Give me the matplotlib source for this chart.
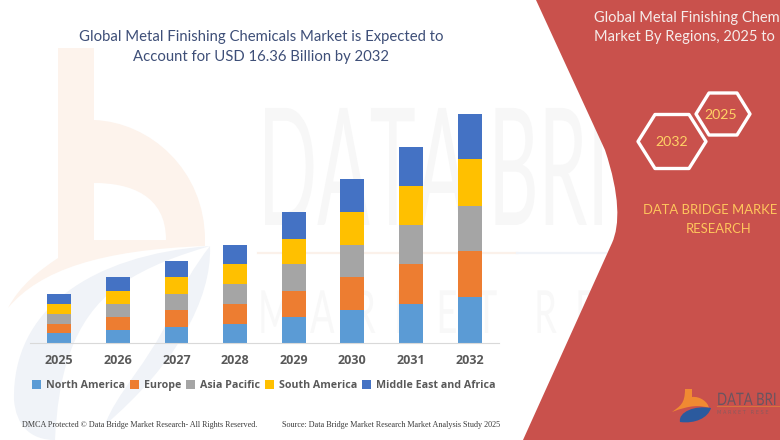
import matplotlib
matplotlib.use("Agg")
import matplotlib.pyplot as plt
import numpy as np
from matplotlib.patches import Polygon, PathPatch
from matplotlib.path import Path
from matplotlib.patheffects import AbstractPathEffect
from matplotlib.transforms import Affine2D

years = ["2025", "2026", "2027", "2028", "2029", "2030", "2031", "2032"]
north_america = [0.66, 0.90, 1.11, 1.35, 1.83, 2.31, 2.78, 3.24]
europe = [0.69, 0.93, 1.20, 1.43, 1.88, 2.36, 2.82, 3.31]
asia_pacific = [0.72, 0.93, 1.17, 1.41, 1.89, 2.29, 2.79, 3.24]
south_america = [0.69, 0.95, 1.20, 1.41, 1.83, 2.38, 2.84, 3.34]
middle_east = [0.72, 0.96, 1.17, 1.38, 1.91, 2.36, 2.77, 3.23]
series_names = ["North America", "Europe", "Asia Pacific", "South America", "Middle East and Africa"]
series_colors = ["#5B9BD5", "#ED7D31", "#A5A5A5", "#FFC000", "#4472C4"]


class Stretch(AbstractPathEffect):
    """Draw a text taller than its font, about its baseline."""
    def __init__(self, k):
        super().__init__()
        self.k = k

    def draw_path(self, renderer, gc, tpath, affine, rgbFace=None):
        renderer.draw_path(gc, tpath, Affine2D().scale(1, self.k) + affine, rgbFace)


W, H = 780, 440
fig = plt.figure(figsize=(W / 100, H / 100), dpi=100, facecolor="white")

# decorative background, in pixel coordinates
bg = fig.add_axes([0, 0, 1, 1], zorder=0)
bg.set_xlim(0, W)
bg.set_ylim(H, 0)
bg.axis("off")

M, L, C3, C4, Z = 1, 2, 3, 4, 79

# pale orange "b" watermark
bg.add_patch(PathPatch(Path(
    [(58, 48), (94, 48), (94, 120), (150, 122), (205, 170), (205, 240), (166, 240),
     (166, 195), (130, 183), (94, 183), (94, 240), (150, 240), (205, 240), (205, 246),
     (100, 250), (40, 270), (8, 308), (20, 285), (40, 270), (58, 258), (58, 48)],
    [M, L, L, C4, C4, C4, L, C4, C4, C4, L, L, L, L, C4, C4, C4, C4, C4, C4, L]),
    fc="#FDF3EC", ec="none", zorder=1))
# pale blue swirl watermark
bg.add_patch(PathPatch(Path(
    [(210, 246), (90, 255), (12, 310), (14, 400), (16, 425), (30, 440), (55, 440),
     (58, 380), (70, 320), (120, 285), (150, 265), (180, 255), (210, 246)],
    [M, C4, C4, C4, C4, C4, C4, C4, C4, C4, C4, C4, C4]), fc="#F0F3F8", ec="none", zorder=2))
bg.add_patch(PathPatch(Path(
    [(210, 246), (212, 300), (175, 365), (105, 425), (115, 395), (150, 360), (168, 320), (180, 290), (195, 265), (210, 246)],
    [M, C4, C4, C4, C4, C4, C4, C4, C4, C4]), fc="#F0F3F8", ec="none", zorder=2))

# grey word watermark
wm = bg.text(258, 225, "DATA BRI", family="Lato", fontsize=56, color="#F7F7F7",
             ha="left", va="baseline", zorder=1)
wm.set_path_effects([Stretch(2.1)])
wm2 = bg.text(258, 333, "M  A  R  K  E  T    R  E  S", family="Lato", fontsize=26, color="#F8F8F8",
              ha="left", va="baseline", zorder=1)
wm2.set_path_effects([Stretch(1.65)])
bg.plot([258, 517], [253, 253], color="#FBF1EA", lw=1.6, zorder=1)
bg.plot([517, 606], [253, 253], color="#F0F3F8", lw=1.6, zorder=1)

# red panel
red_path = Path(
    [(536, 0), (780, 0), (780, 440), (523, 440), (612, 243), (620, 225), (620, 195), (605, 150), (536, 0)],
    [M, L, L, L, L, C4, C4, C4, L])
bg.add_patch(PathPatch(red_path, fc="#C9514C", ec="none", zorder=3))

# hexagons
for cx, cy, rx, hx, hy, label, tx, ty in [
        (672, 141.5, 34, 17, 27, "2032", 672, 141.5),
        (723, 114, 27, 14, 21, "2025", 721, 115)]:
    verts = [(cx - rx, cy), (cx - hx, cy - hy), (cx + hx, cy - hy), (cx + rx, cy), (cx + hx, cy + hy), (cx - hx, cy + hy)]
    bg.add_patch(Polygon(verts, closed=True, fc="none", ec="white", lw=2.4, joinstyle="round", zorder=4))
    bg.text(tx, ty, label, family="Lato", fontsize=10.2, color="#FFD166", ha="center", va="center", zorder=5)

TXT = dict(family="Lato", va="center", zorder=5)
bg.text(594, 18, "Global Metal Finishing Chem", color="#F6ECEA", ha="left", fontsize=10.5, **TXT)
bg.text(594, 37, "Market By Regions, 2025 to", color="#F6ECEA", ha="left", fontsize=10.5, **TXT)
bg.text(643, 209.5, "DATA BRIDGE MARKE", color="#FFC65C", ha="left", fontsize=9.4, **TXT)
bg.text(719, 229, "RESEARCH", color="#FFC65C", ha="center", fontsize=9.4, **TXT)

# logo, bottom right
bg.add_patch(PathPatch(Path(
    [(685, 389), (692, 389), (692, 397), (700, 396), (708, 402), (709, 408), (700, 405), (690, 405), (672, 412), (680, 406), (685, 404), (685, 389)],
    [M, L, L, C4, C4, C4, C4, C4, C4, C4, C4, L]), fc="#F08A32", ec="none", zorder=4))
bg.add_patch(PathPatch(Path(
    [(680, 422), (678, 412), (695, 405), (711, 408), (708, 418), (695, 424), (680, 422)],
    [M, C4, C4, C4, C4, C4, C4]), fc="#2B5A9E", ec="none", zorder=4))
logo = bg.text(717, 405, "DATA BRI", family="Lato", fontsize=9.5, color="#6A5560", ha="left", va="baseline", zorder=5)
logo.set_path_effects([Stretch(1.3)])
bg.plot([717, 780], [406.5, 406.5], color="#D8743F", lw=0.8, zorder=5)
bg.text(717, 412.5, "M A R K E T   R E S E", family="DejaVu Sans", fontsize=3.6, color="#8A5A5E",
        ha="left", va="center", zorder=5)

# title and footers
bg.text(261, 37.5, "Global Metal Finishing Chemicals Market is Expected to", family="Lato", fontsize=10.73,
        color="#3E4F78", ha="center", va="center", zorder=5)
bg.text(261, 57, "Account for USD 16.36 Billion by 2032", family="Lato", fontsize=10.73,
        color="#3E4F78", ha="center", va="center", zorder=5)
bg.text(22, 425, "DMCA Protected © Data Bridge Market Research- All Rights Reserved.", family="Liberation Serif",
        fontsize=5.9, color="#3B3B3B", ha="left", va="center", zorder=5)
bg.text(282, 425, "Source: Data Bridge Market Research Market Analysis Study 2025", family="Liberation Serif",
        fontsize=5.9, color="#3B3B3B", ha="left", va="center", zorder=5)

# chart
ax = fig.add_axes([29.7 / W, 1 - 342.7 / H, 469.3 / W, 242.7 / H], zorder=1)
ax.patch.set_alpha(0)
x = np.arange(len(years))
bottom = np.zeros(len(years))
for vals, name, col in zip([north_america, europe, asia_pacific, south_america, middle_east], series_names, series_colors):
    ax.bar(x, vals, width=0.404, bottom=bottom, color=col, label=name)
    bottom += np.array(vals)
ax.set_xlim(-0.5, len(years) - 0.5)
ax.set_ylim(0, 17.37)
ax.set_yticks([])
for s in ["top", "right", "left"]:
    ax.spines[s].set_visible(False)
ax.spines["bottom"].set_color("#D9D9D9")
ax.spines["bottom"].set_linewidth(0.8)
ax.set_xticks(x, years)
ax.tick_params(axis="x", length=0, pad=8, labelcolor="#595959")
for t in ax.get_xticklabels():
    t.set_family("Open Sans")
    t.set_fontweight("bold")
    t.set_fontsize(9)
leg = ax.legend(loc="upper left", bbox_to_anchor=(0.005, -0.154), ncol=5, frameon=False,
                prop={"family": "Open Sans", "weight": "bold", "size": 7.67},
                handlelength=0.85, handleheight=0.85, handletextpad=0.46, columnspacing=0.46,
                borderaxespad=0, borderpad=0)
for t in leg.get_texts():
    t.set_color("#595959")

fig.savefig("out.png", dpi=100)
